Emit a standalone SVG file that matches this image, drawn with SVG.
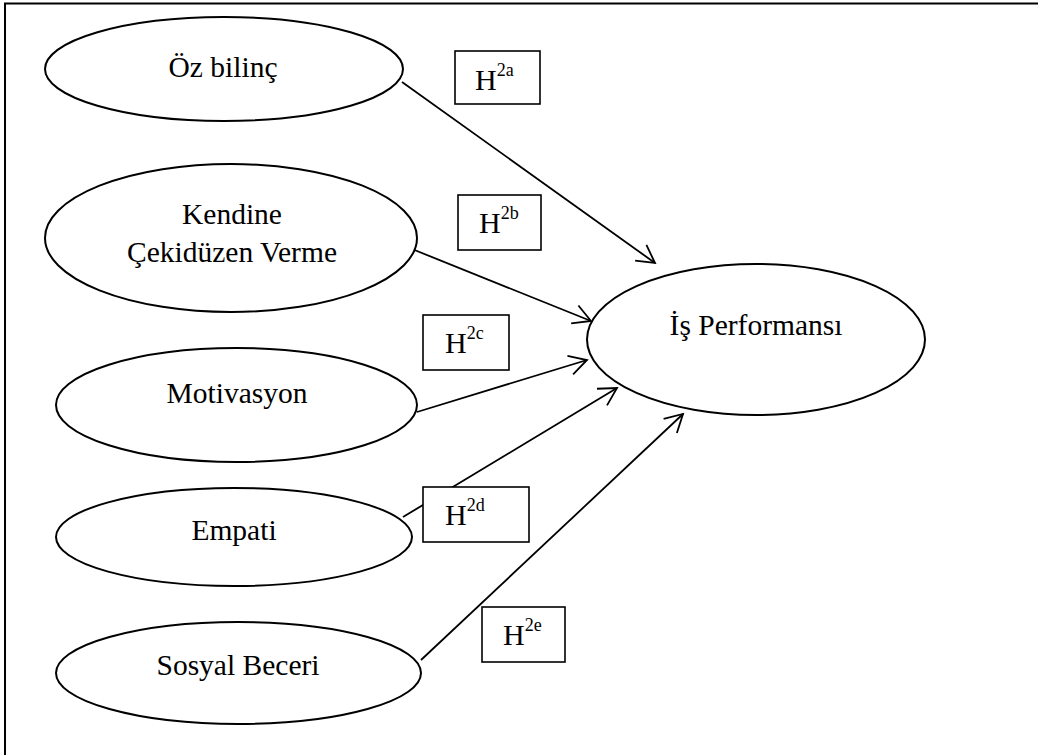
<svg xmlns="http://www.w3.org/2000/svg" width="1038" height="755" viewBox="0 0 1038 755">
<style>
.node{fill:#fff;stroke:#000;stroke-width:2}
.lbl{font-family:"Liberation Serif","Times New Roman",serif;font-size:29.5px;fill:#000;text-anchor:middle}
.hb{fill:#fff;stroke:#000;stroke-width:1.6}
.ht{font-family:"Liberation Serif","Times New Roman",serif;font-size:30px;fill:#000}
.sup{font-size:18px}
.con{stroke:#000;stroke-width:1.8;fill:none}
</style>
<defs>
<marker id="arr" markerUnits="userSpaceOnUse" markerWidth="40" markerHeight="40" viewBox="-25 -20 30 40" refX="0" refY="0" orient="auto">
<path d="M-17.5,-9.7 L0,0 L-17.5,9.7" fill="none" stroke="#000" stroke-width="1.8"/>
</marker>
</defs>
<rect width="1038" height="755" fill="#fff"/>
<path d="M5,755 L5,3.5 L1038,3.5" fill="none" stroke="#000" stroke-width="2"/>
<g id="connectors">
<line class="con" x1="402" y1="82" x2="655" y2="263" marker-end="url(#arr)"/>
<line class="con" x1="412" y1="249" x2="591" y2="321" marker-end="url(#arr)"/>
<line class="con" x1="417" y1="412" x2="587" y2="360" marker-end="url(#arr)"/>
<line class="con" x1="403" y1="517" x2="617" y2="388" marker-end="url(#arr)"/>
<line class="con" x1="421" y1="660" x2="683" y2="414" marker-end="url(#arr)"/>
</g>
<g id="node-ozbilinc">
<ellipse class="node" cx="224" cy="69" rx="179" ry="52"/>
<text class="lbl" x="223" y="77">Öz bilinç</text>
</g>
<g id="node-kendine">
<ellipse class="node" cx="231" cy="238" rx="186" ry="74"/>
<text class="lbl" x="232" y="224">Kendine</text>
<text class="lbl" x="232" y="262">Çekidüzen Verme</text>
</g>
<g id="node-motivasyon">
<ellipse class="node" cx="236.5" cy="405" rx="180.5" ry="57"/>
<text class="lbl" x="237" y="403">Motivasyon</text>
</g>
<g id="node-empati">
<ellipse class="node" cx="234" cy="537" rx="178" ry="49"/>
<text class="lbl" x="234" y="540">Empati</text>
</g>
<g id="node-sosyal">
<ellipse class="node" cx="238.5" cy="673" rx="182.5" ry="51"/>
<text class="lbl" x="238" y="675">Sosyal Beceri</text>
</g>
<g id="node-is">
<ellipse class="node" cx="756" cy="339.5" rx="169" ry="75.5"/>
<text class="lbl" x="756" y="335">İş Performansı</text>
</g>
<g id="h2a">
<rect class="hb" x="455" y="51" width="85" height="53"/>
<text class="ht" x="475" y="90">H<tspan class="sup" dy="-14">2a</tspan></text>
</g>
<g id="h2b">
<rect class="hb" x="458" y="195" width="83" height="55"/>
<text class="ht" x="479" y="233">H<tspan class="sup" dy="-14">2b</tspan></text>
</g>
<g id="h2c">
<rect class="hb" x="423" y="315" width="86" height="55"/>
<text class="ht" x="445" y="353">H<tspan class="sup" dy="-14">2c</tspan></text>
</g>
<g id="h2d">
<rect class="hb" x="423" y="487" width="106" height="55"/>
<text class="ht" x="445" y="525">H<tspan class="sup" dy="-14">2d</tspan></text>
</g>
<g id="h2e">
<rect class="hb" x="482" y="607" width="83" height="55"/>
<text class="ht" x="503" y="645">H<tspan class="sup" dy="-14">2e</tspan></text>
</g>
</svg>
